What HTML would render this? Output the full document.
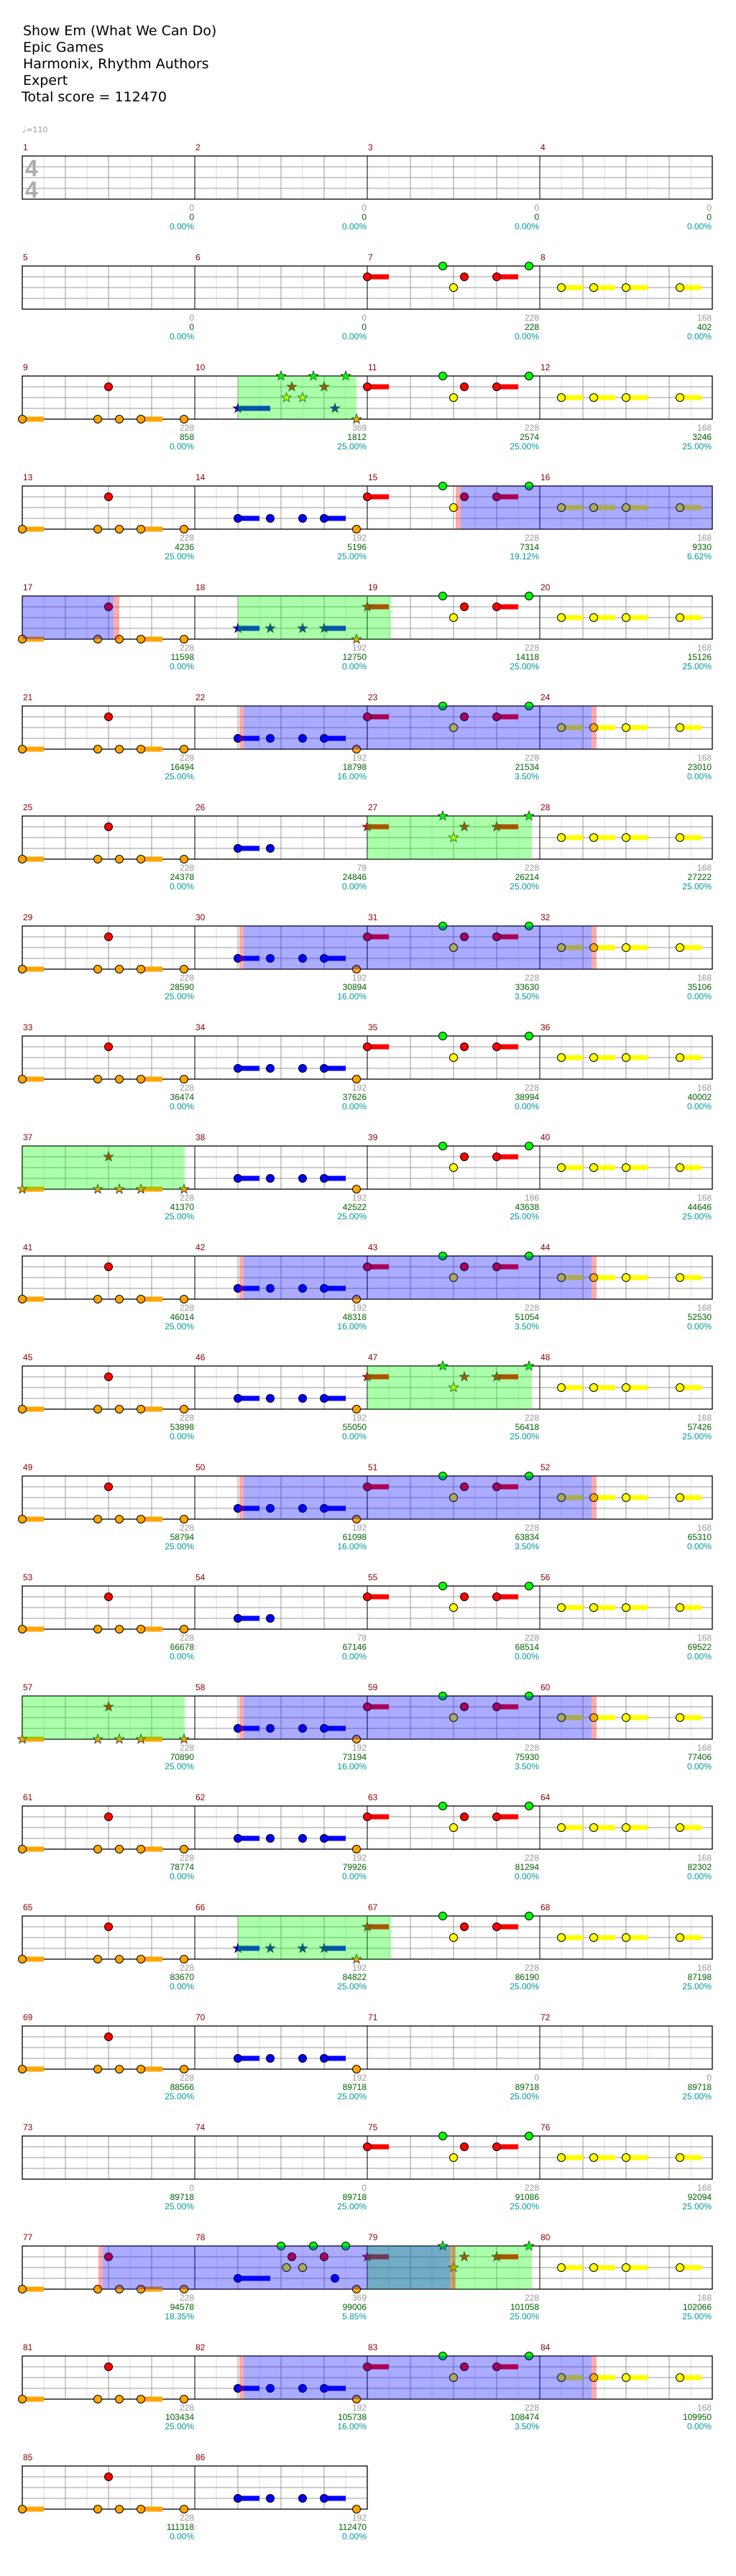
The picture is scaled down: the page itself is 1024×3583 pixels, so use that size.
<!DOCTYPE html>
<html><head><meta charset="utf-8"><style>
html,body{margin:0;padding:0;background:#fff}
svg{display:block}
.t{font-family:"DejaVu Sans","Liberation Sans",sans-serif;font-size:19px;fill:#000}
.l{font-family:"Liberation Sans",sans-serif;font-size:12px;fill:#8b0000}
.v{font-family:"Liberation Sans",sans-serif;font-size:12px;text-anchor:end}
.g{fill:#999}.n{fill:#006400}.p{fill:#009999}
</style></head><body>
<svg width="1024" height="3583" viewBox="0 0 1024 3583" xmlns="http://www.w3.org/2000/svg" xmlns:xlink="http://www.w3.org/1999/xlink">
<defs>
<circle id="c" r="5.5" stroke="#000" stroke-width="1"/>
<polygon id="s" points="0,-7 1.65,-2.27 6.66,-2.16 2.66,0.87 4.11,5.66 0,2.8 -4.11,5.66 -2.66,0.87 -6.66,-2.16 -1.65,-2.27" stroke="#222" stroke-width="0.8"/>
<g id="gm">
<g stroke="#ddd" stroke-width="1"><line x1="30" y1="0" x2="30" y2="60"/><line x1="90" y1="0" x2="90" y2="60"/><line x1="150" y1="0" x2="150" y2="60"/><line x1="210" y1="0" x2="210" y2="60"/></g>
<g stroke="#999" stroke-width="1"><line x1="60" y1="0" x2="60" y2="60"/><line x1="120" y1="0" x2="120" y2="60"/><line x1="180" y1="0" x2="180" y2="60"/><line x1="0" y1="15" x2="240" y2="15"/><line x1="0" y1="30" x2="240" y2="30"/><line x1="0" y1="45" x2="240" y2="45"/></g>
</g>
<g id="row4"><use href="#gm" x="31"/><use href="#gm" x="271"/><use href="#gm" x="511"/><use href="#gm" x="751"/>
<g stroke="#000" stroke-width="1"><line x1="271" y1="0" x2="271" y2="60"/><line x1="511" y1="0" x2="511" y2="60"/><line x1="751" y1="0" x2="751" y2="60"/></g>
<rect x="31" y="0" width="960" height="60" fill="none" stroke="#000" stroke-width="1.3"/></g>
<g id="row2"><use href="#gm" x="31"/><use href="#gm" x="271"/>
<line x1="271" y1="0" x2="271" y2="60" stroke="#000"/>
<rect x="31" y="0" width="480" height="60" fill="none" stroke="#000" stroke-width="1.3"/></g>

<g id="pO"><rect x="0" y="56.5" width="30" height="7" fill="#ffa500"/><rect x="165" y="56.5" width="30" height="7" fill="#ffa500"/>
<use href="#c" x="0" y="60" fill="#ffa500"/><use href="#c" x="105" y="60" fill="#ffa500"/><use href="#c" x="135" y="60" fill="#ffa500"/><use href="#c" x="165" y="60" fill="#ffa500"/><use href="#c" x="225" y="60" fill="#ffa500"/><use href="#c" x="120" y="15" fill="#f00"/></g>
<g id="pOs"><rect x="0" y="56.5" width="30" height="7" fill="#ffa500"/><rect x="165" y="56.5" width="30" height="7" fill="#ffa500"/>
<use href="#s" x="0" y="60" fill="#ffa500"/><use href="#s" x="105" y="60" fill="#ffa500"/><use href="#s" x="135" y="60" fill="#ffa500"/><use href="#s" x="165" y="60" fill="#ffa500"/><use href="#s" x="225" y="60" fill="#ffa500"/><use href="#s" x="120" y="15" fill="#f00"/></g>
<g id="pB"><rect x="60" y="41.5" width="30" height="7" fill="#00f"/><rect x="180" y="41.5" width="30" height="7" fill="#00f"/>
<use href="#c" x="60" y="45" fill="#00f"/><use href="#c" x="105" y="45" fill="#00f"/><use href="#c" x="150" y="45" fill="#00f"/><use href="#c" x="180" y="45" fill="#00f"/><use href="#c" x="225" y="60" fill="#ffa500"/></g>
<g id="pBs"><rect x="60" y="41.5" width="30" height="7" fill="#00f"/><rect x="180" y="41.5" width="30" height="7" fill="#00f"/>
<use href="#s" x="60" y="45" fill="#00f"/><use href="#s" x="105" y="45" fill="#00f"/><use href="#s" x="150" y="45" fill="#00f"/><use href="#s" x="180" y="45" fill="#00f"/><use href="#s" x="225" y="60" fill="#ffa500"/></g>
<g id="pB2"><rect x="60" y="41.5" width="30" height="7" fill="#00f"/><use href="#c" x="60" y="45" fill="#00f"/><use href="#c" x="105" y="45" fill="#00f"/></g>
<g id="pA"><rect x="0" y="11.5" width="30" height="7" fill="#f00"/><rect x="180" y="11.5" width="30" height="7" fill="#f00"/>
<use href="#c" x="0" y="15" fill="#f00"/><use href="#c" x="105" y="0" fill="#0f0"/><use href="#c" x="120" y="30" fill="#ff0"/><use href="#c" x="135" y="15" fill="#f00"/><use href="#c" x="180" y="15" fill="#f00"/><use href="#c" x="225" y="0" fill="#0f0"/></g>
<g id="pA1"><rect x="180" y="11.5" width="30" height="7" fill="#f00"/>
<use href="#c" x="105" y="0" fill="#0f0"/><use href="#c" x="120" y="30" fill="#ff0"/><use href="#c" x="135" y="15" fill="#f00"/><use href="#c" x="180" y="15" fill="#f00"/><use href="#c" x="225" y="0" fill="#0f0"/></g>
<g id="pAh"><rect x="0" y="11.5" width="30" height="7" fill="#f00"/><rect x="180" y="11.5" width="30" height="7" fill="#f00"/>
<use href="#s" x="0" y="15" fill="#f00"/><use href="#c" x="105" y="0" fill="#0f0"/><use href="#c" x="120" y="30" fill="#ff0"/><use href="#c" x="135" y="15" fill="#f00"/><use href="#c" x="180" y="15" fill="#f00"/><use href="#c" x="225" y="0" fill="#0f0"/></g>
<g id="pAs"><rect x="0" y="11.5" width="30" height="7" fill="#f00"/><rect x="180" y="11.5" width="30" height="7" fill="#f00"/>
<use href="#s" x="0" y="15" fill="#f00"/><use href="#s" x="105" y="0" fill="#0f0"/><use href="#s" x="120" y="30" fill="#ff0"/><use href="#s" x="135" y="15" fill="#f00"/><use href="#s" x="180" y="15" fill="#f00"/><use href="#s" x="225" y="0" fill="#0f0"/></g>
<g id="pY"><g fill="#ff0"><rect x="30" y="26.5" width="30" height="7"/><rect x="75" y="26.5" width="30" height="7"/><rect x="120" y="26.5" width="30" height="7"/><rect x="195" y="26.5" width="30" height="7"/></g>
<use href="#c" x="30" y="30" fill="#ff0"/><use href="#c" x="75" y="30" fill="#ff0"/><use href="#c" x="120" y="30" fill="#ff0"/><use href="#c" x="195" y="30" fill="#ff0"/></g>
<g id="pC"><rect x="60" y="41.5" width="45" height="7" fill="#00f"/>
<use href="#c" x="60" y="45" fill="#00f"/><use href="#c" x="120" y="0" fill="#0f0"/><use href="#c" x="127.5" y="30" fill="#ff0"/><use href="#c" x="135" y="15" fill="#f00"/><use href="#c" x="150" y="30" fill="#ff0"/><use href="#c" x="165" y="0" fill="#0f0"/><use href="#c" x="180" y="15" fill="#f00"/><use href="#c" x="195" y="45" fill="#00f"/><use href="#c" x="210" y="0" fill="#0f0"/><use href="#c" x="225" y="60" fill="#ffa500"/></g>
<g id="pCs"><rect x="60" y="41.5" width="45" height="7" fill="#00f"/>
<use href="#s" x="60" y="45" fill="#00f"/><use href="#s" x="120" y="0" fill="#0f0"/><use href="#s" x="127.5" y="30" fill="#ff0"/><use href="#s" x="135" y="15" fill="#f00"/><use href="#s" x="150" y="30" fill="#ff0"/><use href="#s" x="165" y="0" fill="#0f0"/><use href="#s" x="180" y="15" fill="#f00"/><use href="#s" x="195" y="45" fill="#00f"/><use href="#s" x="210" y="0" fill="#0f0"/><use href="#s" x="225" y="60" fill="#ffa500"/></g>
<g id="od"><rect x="333" y="0" width="6" height="60" fill="#f00" fill-opacity=".33"/><rect x="339" y="0" width="484" height="60" fill="#00f" fill-opacity=".33"/><rect x="823" y="0" width="7" height="60" fill="#f00" fill-opacity=".33"/></g>
</defs>

<text class="t" x="32" y="49">Show Em (What We Can Do)</text>
<text class="t" x="32" y="72">Epic Games</text>
<text class="t" x="32" y="95">Harmonix, Rhythm Authors</text>
<text class="t" x="32" y="118">Expert</text>
<text class="t" x="30" y="141">Total score = 112470</text>
<text x="31" y="184" style="font-family:'DejaVu Sans',sans-serif;font-size:11px;fill:#999">♩=110</text>

<!-- Row 1 -->
<g transform="translate(0,217)"><use href="#row4"/>
<text x="35" y="28" style="font-family:'Liberation Sans',sans-serif;font-weight:bold;font-size:32px;fill:#aaa">4</text>
<text x="35" y="58" style="font-family:'Liberation Sans',sans-serif;font-weight:bold;font-size:32px;fill:#aaa">4</text>
<text class="l" x="32" y="-8">1</text><text class="l" x="272" y="-8">2</text><text class="l" x="512" y="-8">3</text><text class="l" x="752" y="-8">4</text>
<text class="v g" x="270" y="76">0</text><text class="v n" x="270" y="89">0</text><text class="v p" x="270" y="102">0.00%</text>
<text class="v g" x="510" y="76">0</text><text class="v n" x="510" y="89">0</text><text class="v p" x="510" y="102">0.00%</text>
<text class="v g" x="750" y="76">0</text><text class="v n" x="750" y="89">0</text><text class="v p" x="750" y="102">0.00%</text>
<text class="v g" x="990" y="76">0</text><text class="v n" x="990" y="89">0</text><text class="v p" x="990" y="102">0.00%</text>
</g>

<!-- Row 2 -->
<g transform="translate(0,370)"><use href="#row4"/><use href="#pA" x="511"/><use href="#pY" x="751"/>
<text class="l" x="32" y="-8">5</text><text class="l" x="272" y="-8">6</text><text class="l" x="512" y="-8">7</text><text class="l" x="752" y="-8">8</text>
<text class="v g" x="270" y="76">0</text><text class="v n" x="270" y="89">0</text><text class="v p" x="270" y="102">0.00%</text>
<text class="v g" x="510" y="76">0</text><text class="v n" x="510" y="89">0</text><text class="v p" x="510" y="102">0.00%</text>
<text class="v g" x="750" y="76">228</text><text class="v n" x="750" y="89">228</text><text class="v p" x="750" y="102">0.00%</text>
<text class="v g" x="990" y="76">168</text><text class="v n" x="990" y="89">402</text><text class="v p" x="990" y="102">0.00%</text>
</g>

<!-- Row 3 -->
<g transform="translate(0,523)"><use href="#row4"/><use href="#pO" x="31"/><use href="#pCs" x="271"/><use href="#pA" x="511"/><use href="#pY" x="751"/>
<rect x="331" y="0" width="165" height="60" fill="#0f0" fill-opacity=".33"/>
<text class="l" x="32" y="-8">9</text><text class="l" x="272" y="-8">10</text><text class="l" x="512" y="-8">11</text><text class="l" x="752" y="-8">12</text>
<text class="v g" x="270" y="76">228</text><text class="v n" x="270" y="89">858</text><text class="v p" x="270" y="102">0.00%</text>
<text class="v g" x="510" y="76">369</text><text class="v n" x="510" y="89">1812</text><text class="v p" x="510" y="102">25.00%</text>
<text class="v g" x="750" y="76">228</text><text class="v n" x="750" y="89">2574</text><text class="v p" x="750" y="102">25.00%</text>
<text class="v g" x="990" y="76">168</text><text class="v n" x="990" y="89">3246</text><text class="v p" x="990" y="102">25.00%</text>
</g>

<!-- Row 4 -->
<g transform="translate(0,676)"><use href="#row4"/><use href="#pO" x="31"/><use href="#pB" x="271"/><use href="#pA" x="511"/><use href="#pY" x="751"/>
<rect x="634" y="0" width="7" height="60" fill="#f00" fill-opacity=".33"/><rect x="641" y="0" width="350" height="60" fill="#00f" fill-opacity=".33"/>
<text class="l" x="32" y="-8">13</text><text class="l" x="272" y="-8">14</text><text class="l" x="512" y="-8">15</text><text class="l" x="752" y="-8">16</text>
<text class="v g" x="270" y="76">228</text><text class="v n" x="270" y="89">4236</text><text class="v p" x="270" y="102">25.00%</text>
<text class="v g" x="510" y="76">192</text><text class="v n" x="510" y="89">5196</text><text class="v p" x="510" y="102">25.00%</text>
<text class="v g" x="750" y="76">228</text><text class="v n" x="750" y="89">7314</text><text class="v p" x="750" y="102">19.12%</text>
<text class="v g" x="990" y="76">168</text><text class="v n" x="990" y="89">9330</text><text class="v p" x="990" y="102">6.62%</text>
</g>

<!-- Row 5 -->
<g transform="translate(0,829)"><use href="#row4"/><use href="#pO" x="31"/><use href="#pBs" x="271"/><use href="#pAh" x="511"/><use href="#pY" x="751"/>
<rect x="31" y="0" width="127" height="60" fill="#00f" fill-opacity=".33"/><rect x="158" y="0" width="8" height="60" fill="#f00" fill-opacity=".33"/>
<rect x="331" y="0" width="213" height="60" fill="#0f0" fill-opacity=".33"/>
<text class="l" x="32" y="-8">17</text><text class="l" x="272" y="-8">18</text><text class="l" x="512" y="-8">19</text><text class="l" x="752" y="-8">20</text>
<text class="v g" x="270" y="76">228</text><text class="v n" x="270" y="89">11598</text><text class="v p" x="270" y="102">0.00%</text>
<text class="v g" x="510" y="76">192</text><text class="v n" x="510" y="89">12750</text><text class="v p" x="510" y="102">0.00%</text>
<text class="v g" x="750" y="76">228</text><text class="v n" x="750" y="89">14118</text><text class="v p" x="750" y="102">25.00%</text>
<text class="v g" x="990" y="76">168</text><text class="v n" x="990" y="89">15126</text><text class="v p" x="990" y="102">25.00%</text>
</g>

<!-- Row 6 -->
<g transform="translate(0,982)"><use href="#row4"/><use href="#pO" x="31"/><use href="#pB" x="271"/><use href="#pA" x="511"/><use href="#pY" x="751"/><use href="#od"/>
<text class="l" x="32" y="-8">21</text><text class="l" x="272" y="-8">22</text><text class="l" x="512" y="-8">23</text><text class="l" x="752" y="-8">24</text>
<text class="v g" x="270" y="76">228</text><text class="v n" x="270" y="89">16494</text><text class="v p" x="270" y="102">25.00%</text>
<text class="v g" x="510" y="76">192</text><text class="v n" x="510" y="89">18798</text><text class="v p" x="510" y="102">16.00%</text>
<text class="v g" x="750" y="76">228</text><text class="v n" x="750" y="89">21534</text><text class="v p" x="750" y="102">3.50%</text>
<text class="v g" x="990" y="76">168</text><text class="v n" x="990" y="89">23010</text><text class="v p" x="990" y="102">0.00%</text>
</g>

<!-- Row 7 -->
<g transform="translate(0,1135)"><use href="#row4"/><use href="#pO" x="31"/><use href="#pB2" x="271"/><use href="#pAs" x="511"/><use href="#pY" x="751"/>
<rect x="511" y="0" width="229" height="60" fill="#0f0" fill-opacity=".33"/>
<text class="l" x="32" y="-8">25</text><text class="l" x="272" y="-8">26</text><text class="l" x="512" y="-8">27</text><text class="l" x="752" y="-8">28</text>
<text class="v g" x="270" y="76">228</text><text class="v n" x="270" y="89">24378</text><text class="v p" x="270" y="102">0.00%</text>
<text class="v g" x="510" y="76">78</text><text class="v n" x="510" y="89">24846</text><text class="v p" x="510" y="102">0.00%</text>
<text class="v g" x="750" y="76">228</text><text class="v n" x="750" y="89">26214</text><text class="v p" x="750" y="102">25.00%</text>
<text class="v g" x="990" y="76">168</text><text class="v n" x="990" y="89">27222</text><text class="v p" x="990" y="102">25.00%</text>
</g>

<!-- Row 8 -->
<g transform="translate(0,1288)"><use href="#row4"/><use href="#pO" x="31"/><use href="#pB" x="271"/><use href="#pA" x="511"/><use href="#pY" x="751"/><use href="#od"/>
<text class="l" x="32" y="-8">29</text><text class="l" x="272" y="-8">30</text><text class="l" x="512" y="-8">31</text><text class="l" x="752" y="-8">32</text>
<text class="v g" x="270" y="76">228</text><text class="v n" x="270" y="89">28590</text><text class="v p" x="270" y="102">25.00%</text>
<text class="v g" x="510" y="76">192</text><text class="v n" x="510" y="89">30894</text><text class="v p" x="510" y="102">16.00%</text>
<text class="v g" x="750" y="76">228</text><text class="v n" x="750" y="89">33630</text><text class="v p" x="750" y="102">3.50%</text>
<text class="v g" x="990" y="76">168</text><text class="v n" x="990" y="89">35106</text><text class="v p" x="990" y="102">0.00%</text>
</g>

<!-- Row 9 -->
<g transform="translate(0,1441)"><use href="#row4"/><use href="#pO" x="31"/><use href="#pB" x="271"/><use href="#pA" x="511"/><use href="#pY" x="751"/>
<text class="l" x="32" y="-8">33</text><text class="l" x="272" y="-8">34</text><text class="l" x="512" y="-8">35</text><text class="l" x="752" y="-8">36</text>
<text class="v g" x="270" y="76">228</text><text class="v n" x="270" y="89">36474</text><text class="v p" x="270" y="102">0.00%</text>
<text class="v g" x="510" y="76">192</text><text class="v n" x="510" y="89">37626</text><text class="v p" x="510" y="102">0.00%</text>
<text class="v g" x="750" y="76">228</text><text class="v n" x="750" y="89">38994</text><text class="v p" x="750" y="102">0.00%</text>
<text class="v g" x="990" y="76">168</text><text class="v n" x="990" y="89">40002</text><text class="v p" x="990" y="102">0.00%</text>
</g>

<!-- Row 10 -->
<g transform="translate(0,1594)"><use href="#row4"/><use href="#pOs" x="31"/><use href="#pB" x="271"/><use href="#pA1" x="511"/><use href="#pY" x="751"/>
<rect x="31" y="0" width="226" height="60" fill="#0f0" fill-opacity=".33"/>
<text class="l" x="32" y="-8">37</text><text class="l" x="272" y="-8">38</text><text class="l" x="512" y="-8">39</text><text class="l" x="752" y="-8">40</text>
<text class="v g" x="270" y="76">228</text><text class="v n" x="270" y="89">41370</text><text class="v p" x="270" y="102">25.00%</text>
<text class="v g" x="510" y="76">192</text><text class="v n" x="510" y="89">42522</text><text class="v p" x="510" y="102">25.00%</text>
<text class="v g" x="750" y="76">186</text><text class="v n" x="750" y="89">43638</text><text class="v p" x="750" y="102">25.00%</text>
<text class="v g" x="990" y="76">168</text><text class="v n" x="990" y="89">44646</text><text class="v p" x="990" y="102">25.00%</text>
</g>

<!-- Row 11 -->
<g transform="translate(0,1747)"><use href="#row4"/><use href="#pO" x="31"/><use href="#pB" x="271"/><use href="#pA" x="511"/><use href="#pY" x="751"/><use href="#od"/>
<text class="l" x="32" y="-8">41</text><text class="l" x="272" y="-8">42</text><text class="l" x="512" y="-8">43</text><text class="l" x="752" y="-8">44</text>
<text class="v g" x="270" y="76">228</text><text class="v n" x="270" y="89">46014</text><text class="v p" x="270" y="102">25.00%</text>
<text class="v g" x="510" y="76">192</text><text class="v n" x="510" y="89">48318</text><text class="v p" x="510" y="102">16.00%</text>
<text class="v g" x="750" y="76">228</text><text class="v n" x="750" y="89">51054</text><text class="v p" x="750" y="102">3.50%</text>
<text class="v g" x="990" y="76">168</text><text class="v n" x="990" y="89">52530</text><text class="v p" x="990" y="102">0.00%</text>
</g>

<!-- Row 12 -->
<g transform="translate(0,1900)"><use href="#row4"/><use href="#pO" x="31"/><use href="#pB" x="271"/><use href="#pAs" x="511"/><use href="#pY" x="751"/>
<rect x="511" y="0" width="229" height="60" fill="#0f0" fill-opacity=".33"/>
<text class="l" x="32" y="-8">45</text><text class="l" x="272" y="-8">46</text><text class="l" x="512" y="-8">47</text><text class="l" x="752" y="-8">48</text>
<text class="v g" x="270" y="76">228</text><text class="v n" x="270" y="89">53898</text><text class="v p" x="270" y="102">0.00%</text>
<text class="v g" x="510" y="76">192</text><text class="v n" x="510" y="89">55050</text><text class="v p" x="510" y="102">0.00%</text>
<text class="v g" x="750" y="76">228</text><text class="v n" x="750" y="89">56418</text><text class="v p" x="750" y="102">25.00%</text>
<text class="v g" x="990" y="76">168</text><text class="v n" x="990" y="89">57426</text><text class="v p" x="990" y="102">25.00%</text>
</g>

<!-- Row 13 -->
<g transform="translate(0,2053)"><use href="#row4"/><use href="#pO" x="31"/><use href="#pB" x="271"/><use href="#pA" x="511"/><use href="#pY" x="751"/><use href="#od"/>
<text class="l" x="32" y="-8">49</text><text class="l" x="272" y="-8">50</text><text class="l" x="512" y="-8">51</text><text class="l" x="752" y="-8">52</text>
<text class="v g" x="270" y="76">228</text><text class="v n" x="270" y="89">58794</text><text class="v p" x="270" y="102">25.00%</text>
<text class="v g" x="510" y="76">192</text><text class="v n" x="510" y="89">61098</text><text class="v p" x="510" y="102">16.00%</text>
<text class="v g" x="750" y="76">228</text><text class="v n" x="750" y="89">63834</text><text class="v p" x="750" y="102">3.50%</text>
<text class="v g" x="990" y="76">168</text><text class="v n" x="990" y="89">65310</text><text class="v p" x="990" y="102">0.00%</text>
</g>

<!-- Row 14 -->
<g transform="translate(0,2206)"><use href="#row4"/><use href="#pO" x="31"/><use href="#pB2" x="271"/><use href="#pA" x="511"/><use href="#pY" x="751"/>
<text class="l" x="32" y="-8">53</text><text class="l" x="272" y="-8">54</text><text class="l" x="512" y="-8">55</text><text class="l" x="752" y="-8">56</text>
<text class="v g" x="270" y="76">228</text><text class="v n" x="270" y="89">66678</text><text class="v p" x="270" y="102">0.00%</text>
<text class="v g" x="510" y="76">78</text><text class="v n" x="510" y="89">67146</text><text class="v p" x="510" y="102">0.00%</text>
<text class="v g" x="750" y="76">228</text><text class="v n" x="750" y="89">68514</text><text class="v p" x="750" y="102">0.00%</text>
<text class="v g" x="990" y="76">168</text><text class="v n" x="990" y="89">69522</text><text class="v p" x="990" y="102">0.00%</text>
</g>

<!-- Row 15 -->
<g transform="translate(0,2359)"><use href="#row4"/><use href="#pOs" x="31"/><use href="#pB" x="271"/><use href="#pA" x="511"/><use href="#pY" x="751"/><use href="#od"/>
<rect x="31" y="0" width="226" height="60" fill="#0f0" fill-opacity=".33"/>
<text class="l" x="32" y="-8">57</text><text class="l" x="272" y="-8">58</text><text class="l" x="512" y="-8">59</text><text class="l" x="752" y="-8">60</text>
<text class="v g" x="270" y="76">228</text><text class="v n" x="270" y="89">70890</text><text class="v p" x="270" y="102">25.00%</text>
<text class="v g" x="510" y="76">192</text><text class="v n" x="510" y="89">73194</text><text class="v p" x="510" y="102">16.00%</text>
<text class="v g" x="750" y="76">228</text><text class="v n" x="750" y="89">75930</text><text class="v p" x="750" y="102">3.50%</text>
<text class="v g" x="990" y="76">168</text><text class="v n" x="990" y="89">77406</text><text class="v p" x="990" y="102">0.00%</text>
</g>

<!-- Row 16 -->
<g transform="translate(0,2512)"><use href="#row4"/><use href="#pO" x="31"/><use href="#pB" x="271"/><use href="#pA" x="511"/><use href="#pY" x="751"/>
<text class="l" x="32" y="-8">61</text><text class="l" x="272" y="-8">62</text><text class="l" x="512" y="-8">63</text><text class="l" x="752" y="-8">64</text>
<text class="v g" x="270" y="76">228</text><text class="v n" x="270" y="89">78774</text><text class="v p" x="270" y="102">0.00%</text>
<text class="v g" x="510" y="76">192</text><text class="v n" x="510" y="89">79926</text><text class="v p" x="510" y="102">0.00%</text>
<text class="v g" x="750" y="76">228</text><text class="v n" x="750" y="89">81294</text><text class="v p" x="750" y="102">0.00%</text>
<text class="v g" x="990" y="76">168</text><text class="v n" x="990" y="89">82302</text><text class="v p" x="990" y="102">0.00%</text>
</g>

<!-- Row 17 -->
<g transform="translate(0,2665)"><use href="#row4"/><use href="#pO" x="31"/><use href="#pBs" x="271"/><use href="#pAh" x="511"/><use href="#pY" x="751"/>
<rect x="331" y="0" width="213" height="60" fill="#0f0" fill-opacity=".33"/>
<text class="l" x="32" y="-8">65</text><text class="l" x="272" y="-8">66</text><text class="l" x="512" y="-8">67</text><text class="l" x="752" y="-8">68</text>
<text class="v g" x="270" y="76">228</text><text class="v n" x="270" y="89">83670</text><text class="v p" x="270" y="102">0.00%</text>
<text class="v g" x="510" y="76">192</text><text class="v n" x="510" y="89">84822</text><text class="v p" x="510" y="102">25.00%</text>
<text class="v g" x="750" y="76">228</text><text class="v n" x="750" y="89">86190</text><text class="v p" x="750" y="102">25.00%</text>
<text class="v g" x="990" y="76">168</text><text class="v n" x="990" y="89">87198</text><text class="v p" x="990" y="102">25.00%</text>
</g>

<!-- Row 18 -->
<g transform="translate(0,2818)"><use href="#row4"/><use href="#pO" x="31"/><use href="#pB" x="271"/>
<text class="l" x="32" y="-8">69</text><text class="l" x="272" y="-8">70</text><text class="l" x="512" y="-8">71</text><text class="l" x="752" y="-8">72</text>
<text class="v g" x="270" y="76">228</text><text class="v n" x="270" y="89">88566</text><text class="v p" x="270" y="102">25.00%</text>
<text class="v g" x="510" y="76">192</text><text class="v n" x="510" y="89">89718</text><text class="v p" x="510" y="102">25.00%</text>
<text class="v g" x="750" y="76">0</text><text class="v n" x="750" y="89">89718</text><text class="v p" x="750" y="102">25.00%</text>
<text class="v g" x="990" y="76">0</text><text class="v n" x="990" y="89">89718</text><text class="v p" x="990" y="102">25.00%</text>
</g>

<!-- Row 19 -->
<g transform="translate(0,2971)"><use href="#row4"/><use href="#pA" x="511"/><use href="#pY" x="751"/>
<text class="l" x="32" y="-8">73</text><text class="l" x="272" y="-8">74</text><text class="l" x="512" y="-8">75</text><text class="l" x="752" y="-8">76</text>
<text class="v g" x="270" y="76">0</text><text class="v n" x="270" y="89">89718</text><text class="v p" x="270" y="102">25.00%</text>
<text class="v g" x="510" y="76">0</text><text class="v n" x="510" y="89">89718</text><text class="v p" x="510" y="102">25.00%</text>
<text class="v g" x="750" y="76">228</text><text class="v n" x="750" y="89">91086</text><text class="v p" x="750" y="102">25.00%</text>
<text class="v g" x="990" y="76">168</text><text class="v n" x="990" y="89">92094</text><text class="v p" x="990" y="102">25.00%</text>
</g>

<!-- Row 20 -->
<g transform="translate(0,3124)"><use href="#row4"/><use href="#pO" x="31"/><use href="#pC" x="271"/><use href="#pAs" x="511"/><use href="#pY" x="751"/>
<rect x="511" y="0" width="229" height="60" fill="#0f0" fill-opacity=".33"/>
<rect x="137" y="0" width="6" height="60" fill="#f00" fill-opacity=".33"/><rect x="143" y="0" width="483" height="60" fill="#00f" fill-opacity=".33"/><rect x="626" y="0" width="8" height="60" fill="#f00" fill-opacity=".33"/>
<text class="l" x="32" y="-8">77</text><text class="l" x="272" y="-8">78</text><text class="l" x="512" y="-8">79</text><text class="l" x="752" y="-8">80</text>
<text class="v g" x="270" y="76">228</text><text class="v n" x="270" y="89">94578</text><text class="v p" x="270" y="102">18.35%</text>
<text class="v g" x="510" y="76">369</text><text class="v n" x="510" y="89">99006</text><text class="v p" x="510" y="102">5.85%</text>
<text class="v g" x="750" y="76">228</text><text class="v n" x="750" y="89">101058</text><text class="v p" x="750" y="102">25.00%</text>
<text class="v g" x="990" y="76">168</text><text class="v n" x="990" y="89">102066</text><text class="v p" x="990" y="102">25.00%</text>
</g>

<!-- Row 21 -->
<g transform="translate(0,3277)"><use href="#row4"/><use href="#pO" x="31"/><use href="#pB" x="271"/><use href="#pA" x="511"/><use href="#pY" x="751"/><use href="#od"/>
<text class="l" x="32" y="-8">81</text><text class="l" x="272" y="-8">82</text><text class="l" x="512" y="-8">83</text><text class="l" x="752" y="-8">84</text>
<text class="v g" x="270" y="76">228</text><text class="v n" x="270" y="89">103434</text><text class="v p" x="270" y="102">25.00%</text>
<text class="v g" x="510" y="76">192</text><text class="v n" x="510" y="89">105738</text><text class="v p" x="510" y="102">16.00%</text>
<text class="v g" x="750" y="76">228</text><text class="v n" x="750" y="89">108474</text><text class="v p" x="750" y="102">3.50%</text>
<text class="v g" x="990" y="76">168</text><text class="v n" x="990" y="89">109950</text><text class="v p" x="990" y="102">0.00%</text>
</g>

<!-- Row 22 -->
<g transform="translate(0,3430)"><use href="#row2"/><use href="#pO" x="31"/><use href="#pB" x="271"/>
<text class="l" x="32" y="-8">85</text><text class="l" x="272" y="-8">86</text>
<text class="v g" x="270" y="76">228</text><text class="v n" x="270" y="89">111318</text><text class="v p" x="270" y="102">0.00%</text>
<text class="v g" x="510" y="76">192</text><text class="v n" x="510" y="89">112470</text><text class="v p" x="510" y="102">0.00%</text>
</g>
</svg>
</body></html>
